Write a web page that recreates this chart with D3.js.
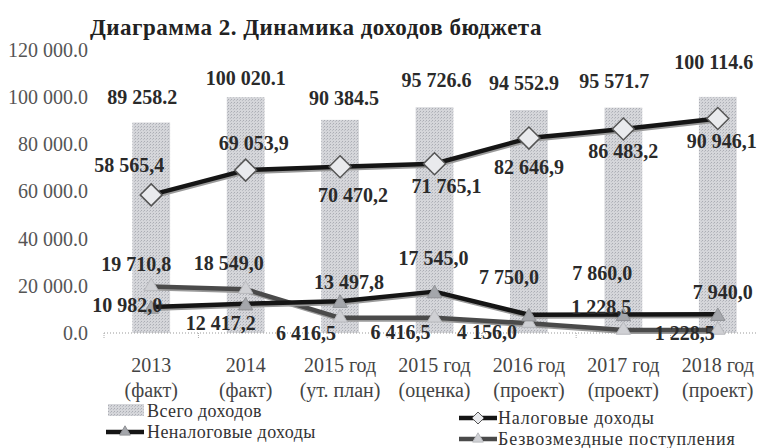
<!DOCTYPE html>
<html>
<head>
<meta charset="utf-8">
<script src="https://cdn.jsdelivr.net/npm/d3@7"></script>
<style>
  body { margin: 0; background: #fff; }
  svg text { font-family: "Liberation Serif", "Tinos", "Times New Roman", "DejaVu Serif", serif; }
</style>
</head>
<body>
<svg id="chart" width="757" height="448"></svg>
<script>
// ===== data =====
const categories = ["2013\n(факт)", "2014\n(факт)", "2015 год\n(ут. план)", "2015 год\n(оценка)",
  "2016 год\n(проект)", "2017 год\n(проект)", "2018 год\n(проект)"];
const totalIncome = [89258.2, 100020.1, 90384.5, 95726.6, 94552.9, 95571.7, 100114.6];
const taxIncome = [58565.4, 69053.9, 70470.2, 71765.1, 82646.9, 86483.2, 90946.1];
const nonTaxIncome = [10982.0, 12417.2, 13497.8, 17545.0, 7750.0, 7860.0, 7940.0];
const grants = [19710.8, 18549.0, 6416.5, 6416.5, 4156.0, 1228.5, 1228.5];
const yTicks = [0, 20000, 40000, 60000, 80000, 100000, 120000];
const legendNames = ["Всего доходов", "Неналоговые доходы", "Налоговые доходы", "Безвозмездные поступления"];

// label offsets (px) from each point, like the manual placement in the source
const totalLabelOff = [[-9, -25], [0, -19], [4, -22], [2, -27], [-5, -27], [-9, -27], [-4, -35]];
const taxLabelOff = [[-22, -30], [8, -27], [13, 28], [12, 22], [0, 29], [0, 22], [4, 22]];
const nonTaxLabelOff = [[-24, -2], [-25, 19], [9, -19], [-1, -34], [-20, -38], [-21, -41], [5, -22]];
const grantsLabelOff = [[-15, -23], [-17, -26], [-34, 15], [-34, 14], [-42, 9], [-22, -23], [-33, 3]];

const FONT = "'Liberation Serif', Tinos, 'Times New Roman', 'DejaVu Serif', serif";
const svg = d3.select("#chart").style("font-family", FONT);
const fmt = (v, dec) => d3.format(",.1f")(v).replace(/,/g, " ").replace(".", dec);

const x = d3.scaleBand().domain(categories).range([104, 765]).paddingInner(0.6).paddingOuter(0.3);
const y = d3.scaleLinear().domain([0, 120000]).range([333, 50]);
const cx = (i) => x(categories[i]) + x.bandwidth() / 2;

// bar stipple pattern
const defs = svg.append("defs");
const pat = defs.append("pattern").attr("id", "stipple").attr("width", 3).attr("height", 3)
  .attr("patternUnits", "userSpaceOnUse");
pat.append("rect").attr("width", 3).attr("height", 3).attr("fill", "#d5d6da");
pat.append("rect").attr("width", 1).attr("height", 1).attr("fill", "#abadb4");
pat.append("rect").attr("x", 2).attr("y", 1).attr("width", 1).attr("height", 1).attr("fill", "#bcbec4");

// title
svg.append("text").attr("x", 90).attr("y", 35).attr("font-family", FONT)
  .style("font-size", "23px").style("font-weight", "bold").style("letter-spacing", "0.5px")
  .attr("fill", "#222")
  .text("Диаграмма 2. Динамика доходов бюджета");

// y axis
const yAxisG = svg.append("g").attr("transform", "translate(104,0)")
  .call(d3.axisLeft(y).tickValues(yTicks).tickSize(0).tickPadding(16).tickFormat((d) => fmt(d, ".")));
yAxisG.attr("font-family", FONT);
yAxisG.select(".domain").remove();
yAxisG.selectAll("text").style("font-size", "20px").attr("fill", "#555");

// bars
svg.append("g").selectAll("rect").data(totalIncome).enter().append("rect")
  .attr("x", (d, i) => x(categories[i]))
  .attr("y", (d) => y(d))
  .attr("width", x.bandwidth())
  .attr("height", (d) => y(0) - y(d))
  .attr("fill", "url(#stipple)");

// zero line + ticks
svg.append("line").attr("x1", 104).attr("x2", 757).attr("y1", y(0)).attr("y2", y(0))
  .attr("stroke", "#999").attr("stroke-width", 1).attr("stroke-dasharray", "1,2");
svg.append("g").selectAll("line").data(d3.range(categories.length + 1)).enter().append("line")
  .attr("x1", (d) => 104 + d * x.step()).attr("x2", (d) => 104 + d * x.step())
  .attr("y1", y(0)).attr("y2", y(0) + 5).attr("stroke", "#aaa").attr("stroke-dasharray", "1,1");

// x axis labels
const xl = svg.append("g").selectAll("text").data(categories).enter().append("text")
  .attr("text-anchor", "middle").style("font-size", "20px").attr("fill", "#444");
xl.each(function (d, i) {
  const parts = d.split("\n");
  d3.select(this).selectAll("tspan").data(parts).enter().append("tspan")
    .attr("x", cx(i)).attr("y", (p, j) => 372 + j * 25).text((p) => p);
});

// lines
const lineGen = d3.line().x((d, i) => cx(i)).y((d) => y(d));
const drawLine = (vals, color) => {
  svg.append("path").datum(vals).attr("d", lineGen).attr("fill", "none")
    .attr("stroke", "#9a9a9a").attr("stroke-width", 4).attr("transform", "translate(1,2)");
  svg.append("path").datum(vals).attr("d", lineGen).attr("fill", "none")
    .attr("stroke", color).attr("stroke-width", 4.5).attr("stroke-linejoin", "round");
};
drawLine(grants, "#4a4a4a");
drawLine(nonTaxIncome, "#151515");
drawLine(taxIncome, "#151515");

const triangle = d3.symbol().type(d3.symbolTriangle).size(90);
const diamond = "M0,-11L11,0L0,11L-11,0Z";

svg.append("g").selectAll("path").data(grants).enter().append("path")
  .attr("d", triangle).attr("transform", (d, i) => `translate(${cx(i)},${y(d)})`)
  .attr("fill", "#cfd0d4").attr("stroke", "#b8b9bd");
svg.append("g").selectAll("path").data(nonTaxIncome).enter().append("path")
  .attr("d", triangle).attr("transform", (d, i) => `translate(${cx(i)},${y(d) + 2})`)
  .attr("fill", "#a4a6ab").attr("stroke", "#909296");
svg.append("g").selectAll("path").data(taxIncome).enter().append("path")
  .attr("d", diamond).attr("transform", (d, i) => `translate(${cx(i)},${y(d)})`)
  .attr("fill", "#e9eaed").attr("stroke", "#555").attr("stroke-width", 1.5);

// data labels
const drawLabels = (vals, offs, dec) => {
  svg.append("g").selectAll("text").data(vals).enter().append("text")
    .attr("x", (d, i) => cx(i) + offs[i][0])
    .attr("y", (d, i) => y(d) + offs[i][1])
    .attr("text-anchor", "middle").attr("dominant-baseline", "central")
    .style("font-size", "20px").style("font-weight", "bold").attr("fill", "#2a2a2a")
    .text((d) => fmt(d, dec));
};
drawLabels(totalIncome, totalLabelOff, ".");
drawLabels(taxIncome, taxLabelOff, ",");
drawLabels(nonTaxIncome, nonTaxLabelOff, ",");
drawLabels(grants, grantsLabelOff, ",");

// legend
const lg = svg.append("g").style("font-size", "18px").attr("fill", "#333");
lg.append("rect").attr("x", 108).attr("y", 404).attr("width", 36).attr("height", 12).attr("fill", "url(#stipple)");
lg.append("text").attr("x", 147).attr("y", 411).attr("dominant-baseline", "central")
  .style("letter-spacing", "0.4px").text(legendNames[0]);

const legendLine = (x0, yy, color, marker, mFill, mStroke) => {
  lg.append("line").attr("x1", x0).attr("x2", x0 + 38).attr("y1", yy).attr("y2", yy)
    .attr("stroke", color).attr("stroke-width", 4.5);
  lg.append("path").attr("d", marker).attr("transform", `translate(${x0 + 19},${yy})`)
    .attr("fill", mFill).attr("stroke", mStroke);
};
legendLine(106, 432, "#151515", d3.symbol().type(d3.symbolTriangle).size(50)(), "#a4a6ab", "#909296");
lg.append("text").attr("x", 147).attr("y", 432).attr("dominant-baseline", "central")
  .style("letter-spacing", "0.4px").text(legendNames[1]);

legendLine(459, 418, "#151515", "M0,-6L6,0L0,6L-6,0Z", "#e9eaed", "#555");
lg.append("text").attr("x", 498).attr("y", 418).attr("dominant-baseline", "central")
  .style("letter-spacing", "0.8px").text(legendNames[2]);
legendLine(459, 439, "#4a4a4a", d3.symbol().type(d3.symbolTriangle).size(50)(), "#cfd0d4", "#b8b9bd");
lg.append("text").attr("x", 498).attr("y", 439).attr("dominant-baseline", "central")
  .style("letter-spacing", "0.8px").text(legendNames[3]);
</script>
</body>
</html>
